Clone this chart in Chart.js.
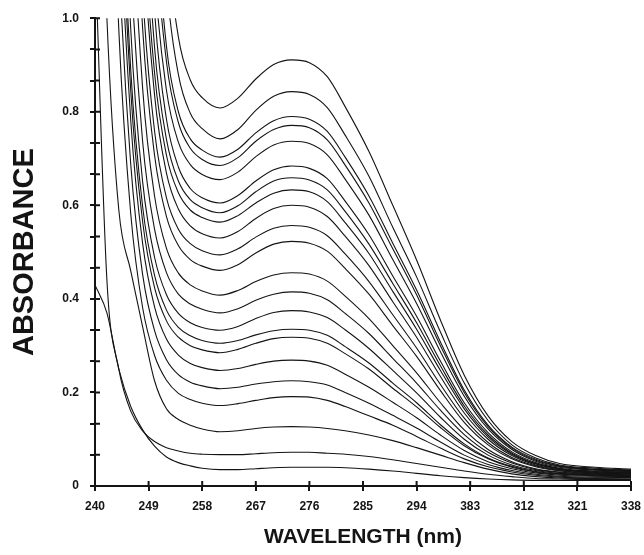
<!DOCTYPE html>
<html>
<head>
    <title>Absorbance spectra</title>
    <script src="https://cdn.jsdelivr.net/npm/chart.js"></script>
    <style>
        body { margin: 0; background: #fff; }
        #wrap { width: 644px; height: 555px; }
    </style>
</head>
<body>
    <div id="wrap">
        <canvas id="myChart" width="644" height="555"></canvas>
    </div>
    <script>
        const wavelengths = [240, 242, 244, 246, 248, 250, 252, 254, 256, 258, 261, 264, 267, 270, 273, 276, 279, 282, 286, 290, 294, 298, 302, 306, 310, 314, 318, 324, 330];

        // absorbance of each spectrum, top curve first (values above 1.0 run off the top of the frame)
        const spec01 = [3, 3, 3, 3, 3, 1.76, 1.19, .96, .868, .83, .808, .829, .87, .901, .911, .905, .875, .811, .715, .60, .483, .355, .237, .15, .095, .065, .048, .04, .036];
        const spec02 = [3, 3, 3, 3, 3, 1.57, 1.08, .88, .797, .764, .742, .762, .803, .833, .843, .837, .809, .75, .662, .553, .447, .329, .22, .14, .088, .06, .045, .038, .034];
        const spec03 = [3, 3, 3, 3, 2.07, 1.28, .94, .80, .742, .718, .703, .72, .755, .781, .79, .784, .758, .703, .62, .519, .419, .308, .205, .13, .083, .057, .043, .036, .033];
        const spec04 = [3, 3, 3, 3, 1.93, 1.21, .907, .777, .722, .698, .685, .702, .737, .762, .771, .766, .74, .686, .605, .507, .409, .30, .20, .127, .081, .055, .042, .035, .032];
        const spec05 = [3, 3, 3, 3, 1.68, 1.10, .846, .735, .687, .666, .655, .671, .704, .729, .737, .732, .708, .656, .579, .484, .39, .287, .192, .122, .078, .053, .04, .034, .031];
        const spec06 = [3, 3, 3, 3, 1.54, 1.016, .784, .682, .636, .616, .605, .621, .652, .676, .684, .679, .657, .609, .537, .449, .363, .267, .178, .114, .073, .05, .038, .032, .03];
        const spec07 = [3, 3, 3, 2.35, 1.38, .938, .741, .652, .612, .595, .584, .599, .629, .652, .659, .654, .633, .587, .517, .433, .349, .257, .171, .109, .07, .048, .037, .031, .029];
        const spec08 = [3, 3, 3, 2.1, 1.26, .883, .707, .627, .59, .574, .564, .578, .605, .626, .633, .629, .608, .563, .497, .416, .335, .247, .165, .105, .068, .047, .036, .03, .028];
        const spec09 = [3, 3, 3, 1.98, 1.196, .836, .669, .592, .556, .539, .53, .544, .572, .593, .60, .596, .576, .534, .471, .394, .318, .234, .156, .10, .065, .045, .035, .029, .027];
        const spec10 = [3, 3, 3, 1.71, 1.06, .759, .616, .549, .518, .503, .494, .507, .532, .551, .557, .553, .535, .496, .437, .366, .295, .217, .145, .093, .061, .043, .033, .028, .026];
        const spec11 = [3, 3, 2.76, 1.55, .978, .707, .576, .514, .484, .47, .461, .473, .498, .517, .523, .519, .502, .465, .41, .343, .277, .204, .136, .088, .058, .041, .032, .027, .025];
        const spec12 = [3, 3, 2.31, 1.33, .85, .62, .508, .455, .43, .417, .408, .418, .437, .451, .456, .453, .438, .406, .358, .3, .242, .178, .12, .078, .052, .037, .03, .026, .024];
        const spec13 = [3, 3, 1.91, 1.125, .736, .549, .456, .41, .389, .378, .37, .379, .397, .41, .415, .412, .398, .369, .326, .273, .22, .162, .11, .072, .049, .035, .029, .025, .023];
        const spec14 = [3, 2.96, 1.64, .977, .65, .489, .409, .369, .349, .339, .333, .341, .358, .371, .375, .372, .36, .334, .294, .247, .199, .147, .10, .066, .045, .033, .027, .024, .022];
        const spec15 = [3, 2.64, 1.47, .89, .597, .45, .376, .339, .321, .311, .305, .311, .323, .332, .335, .333, .322, .298, .263, .22, .178, .131, .09, .06, .042, .031, .026, .023, .021];
        const spec16 = [3, 2.52, 1.41, .846, .565, .424, .353, .318, .30, .291, .285, .292, .305, .315, .318, .316, .305, .283, .25, .209, .169, .125, .086, .058, .04, .03, .025, .022, .021];
        const spec17 = [3, 2.34, 1.30, .782, .518, .383, .314, .28, .262, .253, .247, .251, .26, .267, .269, .267, .258, .239, .211, .179, .146, .109, .076, .052, .037, .028, .023, .021, .02];
        const spec18 = [3, 2.03, 1.14, .688, .452, .332, .27, .238, .222, .214, .208, .211, .218, .223, .225, .223, .216, .20, .177, .151, .124, .094, .066, .046, .033, .025, .021, .019, .018];
        const spec19 = [3, 1.73, .975, .582, .381, .279, .226, .198, .185, .177, .172, .176, .183, .189, .191, .19, .183, .17, .15, .13, .106, .081, .058, .041, .03, .023, .019, .017, .017];
        const spec20 = [1.8, 1.0, .59, .46, .34, .225, .165, .142, .13, .122, .116, .118, .123, .126, .127, .126, .123, .118, .109, .097, .082, .066, .05, .036, .026, .02, .017, .016, .015];
        const spec21 = [1.15, .44, .25, .16, .118, .095, .082, .075, .07, .068, .067, .067, .069, .071, .072, .072, .07, .068, .063, .056, .048, .04, .032, .025, .02, .016, .015, .014, .014];
        const spec22 = [.43, .37, .25, .17, .12, .085, .062, .05, .043, .038, .035, .035, .037, .039, .040, .040, .040, .039, .036, .032, .027, .022, .018, .015, .013, .012, .012, .012, .012];

        const spectra = [spec01, spec02, spec03, spec04, spec05, spec06, spec07, spec08, spec09, spec10, spec11,
                         spec12, spec13, spec14, spec15, spec16, spec17, spec18, spec19, spec20, spec21, spec22];

        // tick labels as printed on the figure
        const xTickLabels = ['240', '249', '258', '267', '276', '285', '294', '383', '312', '321', '338'];
        const yTickLabels = ['0', '0.2', '0.4', '0.6', '0.8', '1.0'];

        const ink = '#141414';

        // ticks in the original cross the axis line, chart.js only draws the outer half
        const innerTicks = {
            id: 'innerTicks',
            afterDatasetsDraw(chart) {
                const ctx = chart.ctx;
                const x = chart.scales.x, y = chart.scales.y;
                ctx.save();
                ctx.strokeStyle = ink;
                ctx.lineWidth = 2;
                ctx.beginPath();
                y.ticks.forEach(t => {
                    const py = y.getPixelForValue(t.value);
                    ctx.moveTo(x.left, py);
                    ctx.lineTo(x.left + 5, py);
                });
                x.ticks.forEach(t => {
                    const px = x.getPixelForValue(t.value);
                    ctx.moveTo(px, y.bottom);
                    ctx.lineTo(px, y.bottom - 5);
                });
                ctx.stroke();
                ctx.restore();
            }
        };

        const datasets = spectra.map((vals, i) => ({
            label: 'spectrum ' + (i + 1),
            data: vals.map((v, j) => ({ x: wavelengths[j], y: v })),
            borderColor: ink,
            borderWidth: 1.1,
            pointRadius: 0,
            fill: false,
            cubicInterpolationMode: 'monotone'
        }));

        var ctx = document.getElementById('myChart').getContext('2d');
        var myChart = new Chart(ctx, {
            type: 'line',
            data: { datasets: datasets },
            plugins: [innerTicks],
            options: {
                responsive: false,
                animation: false,
                layout: { padding: { left: 0, right: 13, top: 14, bottom: 0 } },
                plugins: {
                    legend: { display: false },
                    tooltip: { enabled: false }
                },
                scales: {
                    x: {
                        type: 'linear',
                        min: 240,
                        max: 330,
                        // fixed band under the plot; end labels may hang into the side margins
                        afterFit: s => { s.height = 69; s.paddingLeft = 0; s.paddingRight = 0; },
                        border: { color: ink, width: 2 },
                        grid: { drawOnChartArea: false, tickLength: 5, color: ink, lineWidth: 2 },
                        ticks: {
                            stepSize: 9,
                            autoSkip: false,
                            maxRotation: 0,
                            padding: 8,
                            color: ink,
                            font: { family: 'Liberation Sans', size: 12, weight: 'bold' },
                            callback: (v, i) => xTickLabels[i]
                        },
                        title: {
                            display: true,
                            text: 'WAVELENGTH (nm)',
                            color: ink,
                            padding: { top: 0, bottom: 5 },
                            font: { family: 'Liberation Sans', size: 21, weight: 'bold' }
                        }
                    },
                    y: {
                        min: 0,
                        max: 1,
                        afterFit: s => { s.width = 95; },
                        border: { color: ink, width: 2 },
                        grid: { drawOnChartArea: false, tickLength: 5, color: ink, lineWidth: 2 },
                        ticks: {
                            stepSize: 1 / 15,
                            maxTicksLimit: 20,
                            autoSkip: false,
                            padding: 11,
                            color: ink,
                            font: { family: 'Liberation Sans', size: 12, weight: 'bold' },
                            callback: (v, i) => (i % 3 === 0 ? yTickLabels[i / 3] : '')
                        },
                        title: {
                            display: true,
                            text: 'ABSORBANCE',
                            color: ink,
                            padding: { top: 8, bottom: 0 },
                            font: { family: 'Liberation Sans', size: 29, weight: 'bold' }
                        }
                    }
                }
            }
        });
    </script>
</body>
</html>
